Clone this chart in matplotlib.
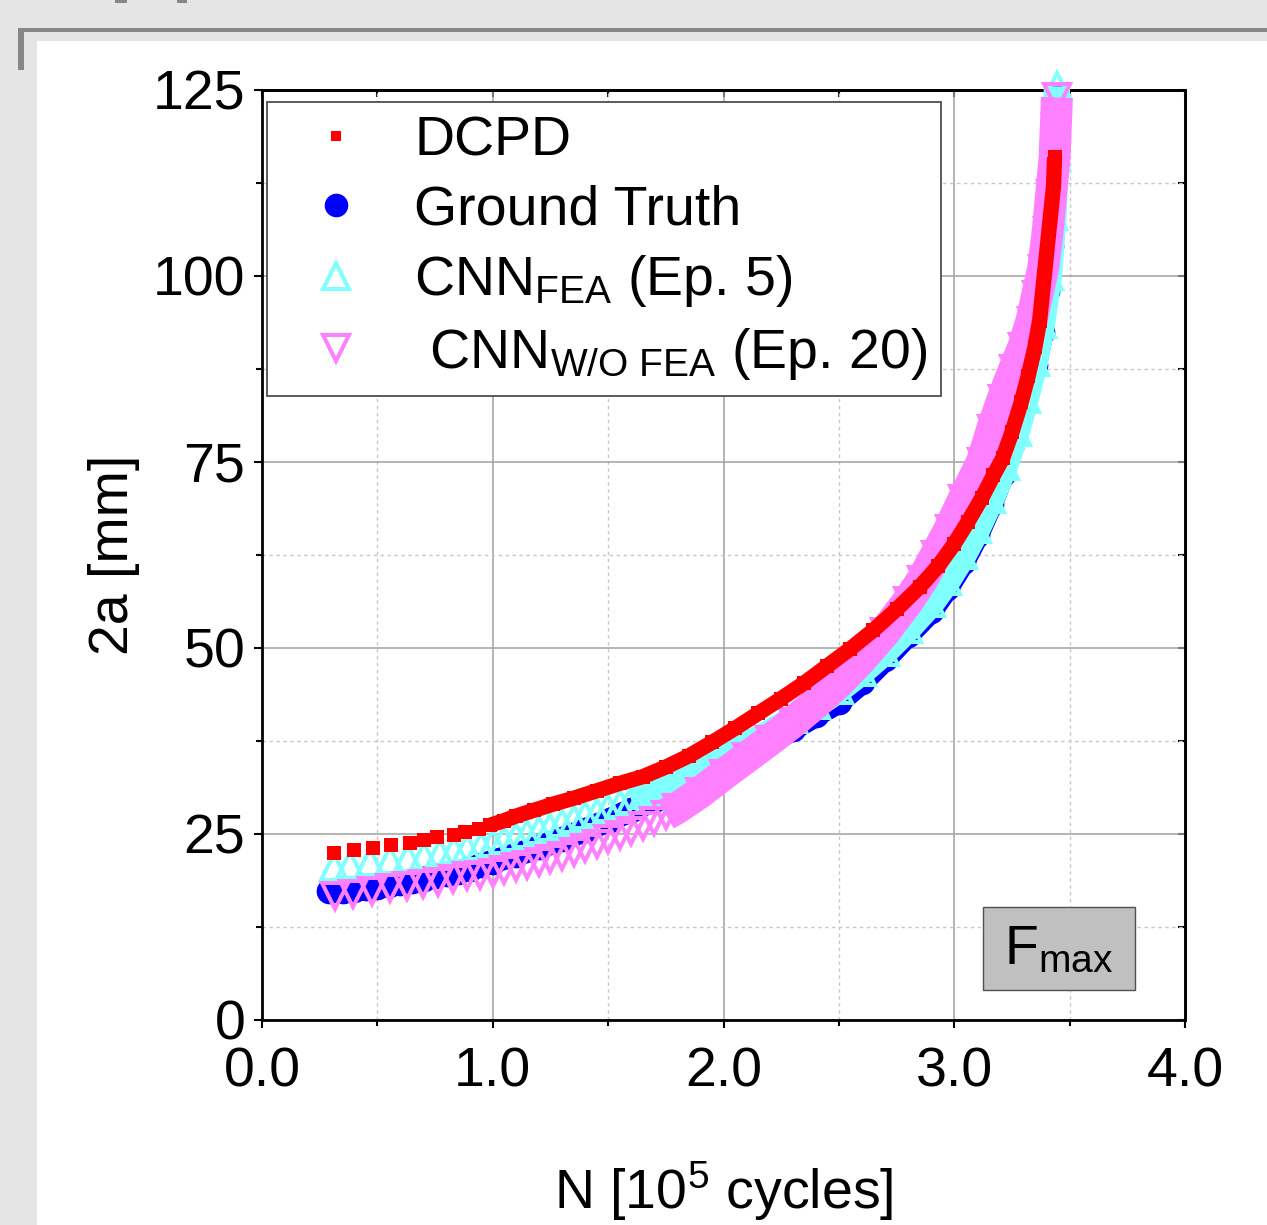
import numpy as np
import matplotlib
matplotlib.use("Agg")
import matplotlib.pyplot as plt
from matplotlib.lines import Line2D
from matplotlib.patches import Rectangle
from matplotlib.ticker import MultipleLocator, FormatStrFormatter

plt.rcParams['font.family'] = ['Liberation Sans', 'DejaVu Sans']
plt.rcParams['mathtext.fontset'] = 'custom'
plt.rcParams['mathtext.rm'] = 'Liberation Sans'
plt.rcParams['mathtext.it'] = 'Liberation Sans:italic'
plt.rcParams['mathtext.bf'] = 'Liberation Sans:bold'

# ---- data: N [1e5 cycles], 2a [mm] ----
dcpd_n = [0.31, 0.40, 0.48, 0.56, 0.64, 0.70, 0.76, 0.83, 0.88, 0.94, 0.99,
          1.05, 1.10, 1.18, 1.26, 1.35, 1.45, 1.55, 1.65, 1.75, 1.85, 1.95,
          2.05, 2.15, 2.25, 2.35, 2.45, 2.55, 2.65, 2.75, 2.85, 2.93, 3.00,
          3.06, 3.12, 3.17, 3.21, 3.25, 3.29, 3.32, 3.35, 3.37, 3.39, 3.41,
          3.43, 3.435]
dcpd_a = [22.4, 22.8, 23.1, 23.5, 23.8, 24.2, 24.6, 24.9, 25.3, 25.7, 26.2,
          26.8, 27.4, 28.2, 29.0, 29.8, 30.8, 31.8, 32.7, 34.0, 35.5, 37.3,
          39.2, 41.2, 43.2, 45.3, 47.6, 49.9, 52.4, 55.2, 58.2, 61.0, 64.0,
          67.0, 70.2, 73.2, 75.5, 79.0, 83.0, 86.5, 90.5, 94.0, 100.0, 106.0,
          112.0, 116.0]

gt_n = [0.29, 0.35, 0.40, 0.45, 0.50, 0.55, 0.60, 0.65, 0.70, 0.75, 0.80,
        0.85, 0.90, 0.95, 1.00, 1.10, 1.20, 1.30, 1.40, 1.50, 1.60, 1.70,
        1.80, 1.90, 2.00, 2.10, 2.20, 2.30, 2.40, 2.50, 2.60, 2.70, 2.80,
        2.90, 2.97, 3.04, 3.10, 3.16, 3.21, 3.25, 3.30, 3.35, 3.38, 3.40,
        3.42, 3.43, 3.44, 3.445]
gt_a = [17.3, 17.4, 17.5, 17.7, 17.9, 18.1, 18.4, 18.7, 19.0, 19.3, 19.6,
        19.9, 20.3, 20.8, 21.3, 22.2, 23.2, 24.3, 25.5, 26.8, 28.2, 29.6,
        31.0, 32.5, 34.0, 35.6, 37.3, 39.1, 41.0, 42.8, 45.4, 48.5, 51.8,
        55.0, 58.1, 61.6, 65.2, 69.4, 73.4, 77.4, 82.5, 88.0, 92.5, 98.0,
        104.0, 110.0, 117.0, 124.0]

fea_n = [0.31, 0.38, 0.47, 0.555, 0.634, 0.70, 0.77, 0.83, 0.89, 0.95, 1.00,
         1.05, 1.10, 1.15, 1.20, 1.25, 1.30, 1.35, 1.40, 1.45, 1.50, 1.55,
         1.60, 1.65, 1.70, 1.80, 1.90, 2.00, 2.10, 2.20, 2.30, 2.40, 2.50,
         2.60, 2.70, 2.80, 2.90, 2.97, 3.04, 3.10, 3.16, 3.22, 3.27, 3.31,
         3.35, 3.38, 3.41, 3.43, 3.44, 3.445]
fea_a = [20.6, 20.9, 21.2, 21.5, 21.8, 22.1, 22.4, 22.8, 23.1, 23.4, 23.8,
         24.2, 24.6, 25.0, 25.5, 26.0, 26.5, 27.0, 27.5, 28.0, 28.5, 29.0,
         29.6, 30.2, 30.8, 32.2, 33.7, 35.3, 36.9, 38.6, 40.4, 42.3, 44.4,
         46.8, 49.5, 52.6, 56.0, 59.0, 62.5, 66.0, 70.0, 74.5, 79.0, 83.5,
         88.5, 93.5, 100.0, 108.0, 116.0, 125.5]

nofea_n = [0.316, 0.395, 0.475, 0.555, 0.627, 0.699, 0.764, 0.829, 0.887,
           0.945, 1.003, 1.05, 1.10, 1.15, 1.20, 1.25, 1.30, 1.35, 1.40,
           1.45, 1.50, 1.55, 1.60, 1.65, 1.70, 1.75, 1.80, 1.90, 2.00, 2.10,
           2.20, 2.30, 2.40, 2.50, 2.60, 2.70, 2.80, 2.86, 2.92, 2.98, 3.04,
           3.12, 3.165, 3.21, 3.26, 3.30, 3.335, 3.36, 3.385, 3.405, 3.42,
           3.435, 3.44, 3.445]
nofea_a = [16.6, 16.9, 17.3, 17.7, 18.0, 18.3, 18.6, 19.0, 19.3,
           19.5, 19.8, 20.1, 20.5, 20.9, 21.3, 21.7, 22.1, 22.6, 23.1,
           23.7, 24.3, 24.8, 25.4, 26.1, 26.8, 27.6, 28.5, 30.6, 33.0, 35.3,
           37.6, 40.0, 42.6, 45.4, 48.6, 52.2, 56.3, 59.1, 62.5, 66.0, 70.0,
           75.0, 79.5, 83.5, 87.5, 90.5, 94.0, 97.5, 101.0, 106.0, 111.0,
           116.0, 120.0, 124.0]

labels = ["DCPD", "Ground Truth", r"CNN$_{\mathrm{FEA}}$ (Ep. 5)",
          r" CNN$_{\mathrm{W/O\ FEA}}$ (Ep. 20)"]

RED = "#ff0000"
BLUE = "#0000ff"
CYAN = "#80ffff"
PINK = "#ff80ff"

W, H = 1267, 1225
fig = plt.figure(figsize=(W / 100, H / 100), dpi=100, facecolor="#e5e5e5")

# screenshot-like frame around the white panel
fig.add_artist(Rectangle((37 / W, 0), 1, (H - 41) / H, transform=fig.transFigure,
                         facecolor="white", edgecolor="none", zorder=0))
fig.add_artist(Rectangle((18 / W, (H - 32) / H), 1, 4 / H, transform=fig.transFigure,
                         facecolor="#878787", edgecolor="none", zorder=0))
fig.add_artist(Rectangle((18 / W, (H - 70) / H), 6 / W, 42 / H, transform=fig.transFigure,
                         facecolor="#878787", edgecolor="none", zorder=0))
for x0, w0 in [(115, 12), (177, 10)]:
    fig.add_artist(Rectangle((x0 / W, (H - 3) / H), w0 / W, 3 / H, transform=fig.transFigure,
                             facecolor="#878787", edgecolor="none", zorder=0))

ax = fig.add_axes([262 / W, (H - 1020) / H, 923 / W, 930 / H])
ax.set_facecolor("white")
ax.set_xlim(0, 4)
ax.set_ylim(0, 125)

# grid
ax.set_axisbelow(True)
ax.xaxis.set_major_locator(MultipleLocator(1.0))
ax.xaxis.set_minor_locator(MultipleLocator(0.5))
ax.yaxis.set_major_locator(MultipleLocator(25))
ax.yaxis.set_minor_locator(MultipleLocator(12.5))
ax.xaxis.set_major_formatter(FormatStrFormatter("%.1f"))
ax.grid(which="major", color="#a0a0a0", lw=1.1, ls="-")
ax.grid(which="minor", color="#c8c8c8", lw=1.0, ls=(0, (2.5, 2.5)))


def series(n, a, start, z, band_lw, **mk):
    n = np.asarray(n)
    a = np.asarray(a)
    k = np.searchsorted(n, start)
    ax.plot(n[k:], a[k:], color=mk["color"], lw=band_lw, solid_capstyle="butt",
            solid_joinstyle="round", zorder=z - 0.5, clip_on=False)
    ax.plot(n, a, ls="none", zorder=z, clip_on=False, **mk)


series(gt_n, gt_a, 0.0, 3, 17, color=BLUE, marker="o", ms=18.5, mew=0)
series(fea_n, fea_a, 1.6, 4, 19, color=CYAN, marker="^", ms=18.5, mew=2.9,
       mfc="none", mec=CYAN)
series(nofea_n, nofea_a, 1.72, 5, 23, color=PINK, marker="v", ms=18.5, mew=2.9,
       mfc="none", mec=PINK)
series(dcpd_n, dcpd_a, 0.98, 6, 11, color=RED, marker="s", ms=9.5, mew=0)

# ticks: out on bottom/left, in on top/right
ax.tick_params(which="both", direction="out", width=1.5, labelsize=40,
               top=False, right=False)
ax.tick_params(which="major", length=6)
ax.tick_params(which="minor", length=4.5)
ax.tick_params(axis="x", pad=13)
ax.tick_params(axis="y", pad=6)
for s in ax.spines.values():
    s.set_linewidth(2)

top = ax.secondary_xaxis("top")
top.xaxis.set_major_locator(MultipleLocator(1.0))
top.xaxis.set_minor_locator(MultipleLocator(0.5))
top.tick_params(which="both", direction="in", length=5, width=1.5, labeltop=False)
top.spines["top"].set_linewidth(2)
rgt = ax.secondary_yaxis("right")
rgt.yaxis.set_major_locator(MultipleLocator(25))
rgt.yaxis.set_minor_locator(MultipleLocator(12.5))
rgt.tick_params(which="both", direction="in", length=5, width=1.5, labelright=False)
rgt.spines["right"].set_linewidth(2)

ax.set_xlabel(r"N [10$^{5}$ cycles]", fontsize=40)
ax.set_ylabel("2a [mm]", fontsize=40)
ax.xaxis.set_label_coords(0.5, -0.15)
ax.yaxis.set_label_coords(-0.132, 0.5)

handles = [
    Line2D([], [], ls="none", marker="s", ms=7, color=RED, mew=0),
    Line2D([], [], ls="none", marker="o", ms=17, color=BLUE, mew=0),
    Line2D([], [], ls="none", marker="^", ms=18.5, mew=2.9, mfc="none", mec=CYAN),
    Line2D([], [], ls="none", marker="v", ms=18.5, mew=2.9, mfc="none", mec=PINK),
]
leg = ax.legend(handles, labels, loc="upper left",
                bbox_to_anchor=((267 - 262) / 923, (1020 - 102) / 930),
                borderaxespad=0, fontsize=40, frameon=True, fancybox=False,
                framealpha=1, borderpad=0.25, handlelength=2.0,
                handletextpad=0.4, labelspacing=0.3)
leg.get_frame().set_edgecolor("#404040")
leg.get_frame().set_linewidth(1.2)
leg.set_zorder(10)

# F_max tag
ax.add_patch(Rectangle(((983 - 262) / 923, (1020 - 990) / 930), 152 / 923, 83 / 930,
                       transform=ax.transAxes, facecolor="#c0c0c0",
                       edgecolor="#505050", lw=1.0, zorder=8))
ax.text((1059 - 262) / 923, (1020 - 950) / 930, r"F$_{\mathrm{max}}$", fontsize=40,
        transform=ax.transAxes, ha="center", va="center", zorder=9)

fig.savefig("out.png", dpi=100, facecolor=fig.get_facecolor())
